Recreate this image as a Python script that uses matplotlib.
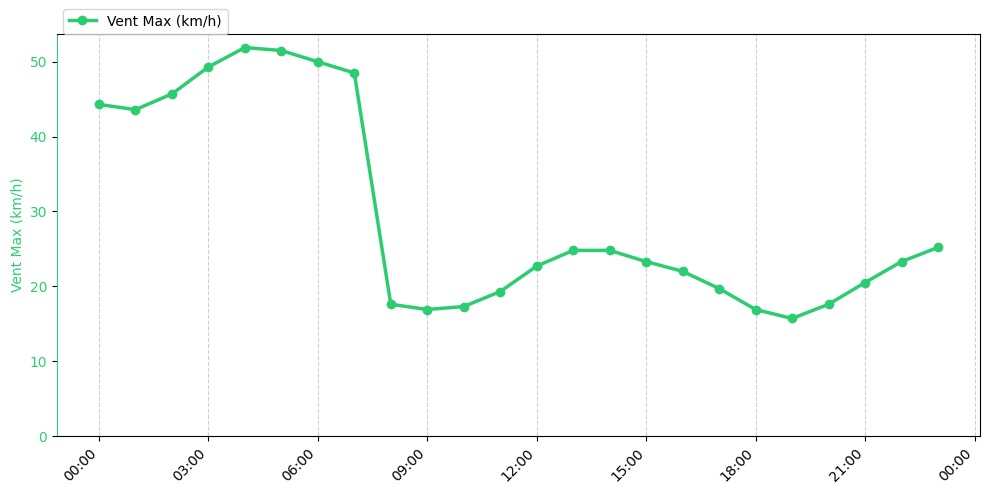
import numpy as np
import pandas as pd
import matplotlib
matplotlib.use("Agg")
import matplotlib.pyplot as plt
import matplotlib.dates as mdates

# vent max horaire (km/h)
heures = pd.date_range("2024-01-01 00:00", periods=24, freq="h")
vent_max = [44.3, 43.6, 45.7, 49.3, 51.9, 51.5, 50.0, 48.5,
            17.6, 16.9, 17.3, 19.3, 22.7, 24.8, 24.8, 23.3,
            22.0, 19.7, 16.9, 15.7, 17.6, 20.5, 23.3, 25.2]

vert = "#2ecc71"

fig, ax = plt.subplots(figsize=(9.89, 4.94), dpi=100)
fig.subplots_adjust(left=0.0576, right=0.9909, top=0.9312, bottom=0.1174)

ax.plot(heures, vent_max, color=vert, linewidth=2.5, marker="o", markersize=6,
        label="Vent Max (km/h)")
ax.set_ylabel("Vent Max (km/h)", color=vert)
ax.tick_params(axis="y", labelcolor=vert)
ax.spines["left"].set_color(vert)
ax.set_ylim(bottom=0)

ax.xaxis.set_major_locator(mdates.HourLocator(byhour=range(0, 24, 3)))
ax.xaxis.set_major_formatter(mdates.DateFormatter("%H:%M"))
plt.setp(ax.get_xticklabels(), rotation=45, ha="right")
ax.grid(axis="x", linestyle="--", alpha=0.6)

ax.legend(loc="upper left", bbox_to_anchor=(-0.001, 1.08))

fig.savefig("out.png")
